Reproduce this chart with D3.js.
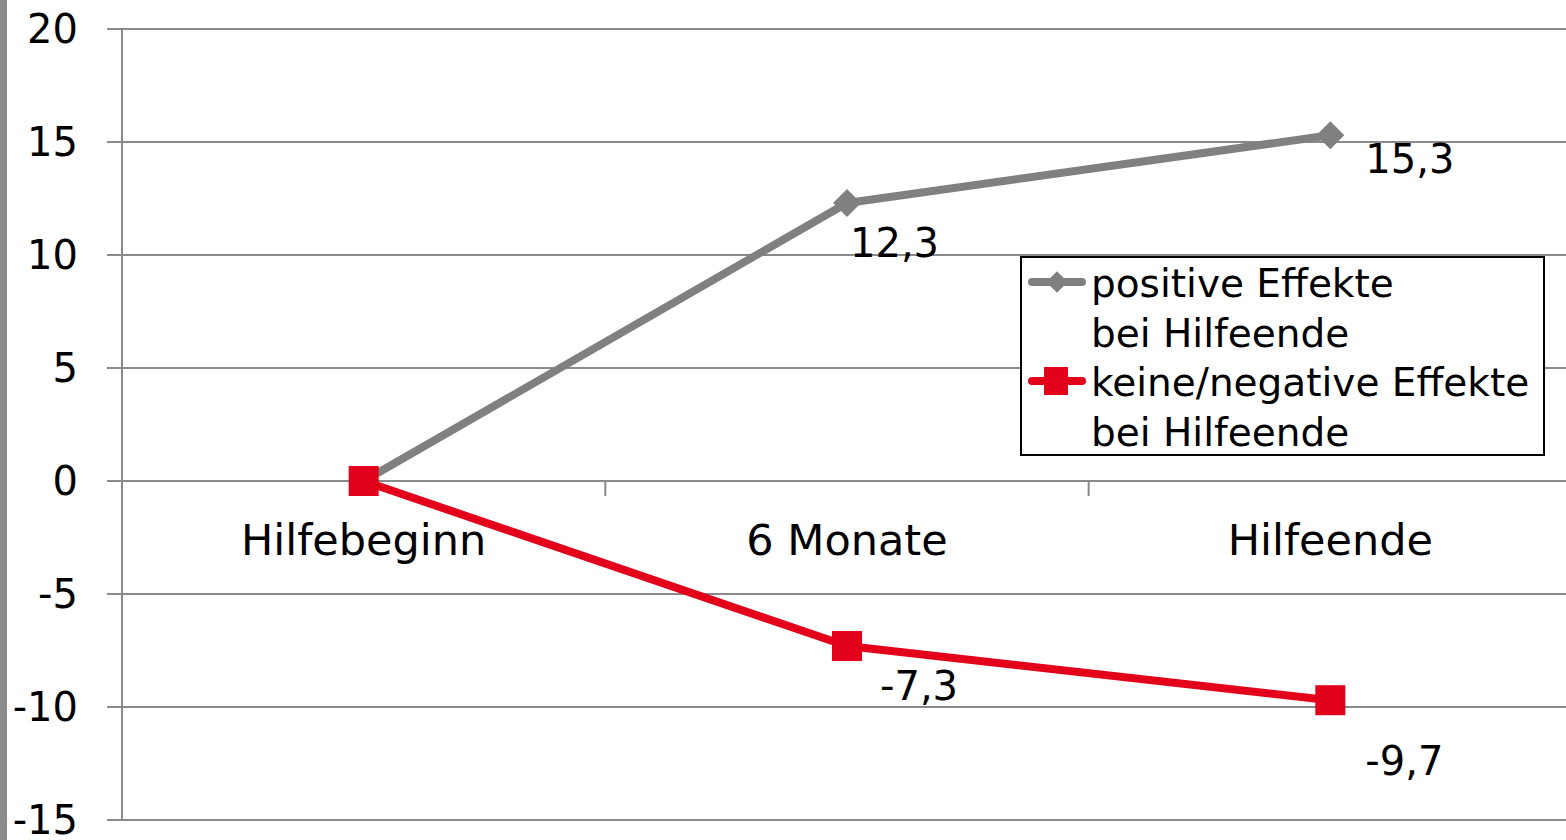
<!DOCTYPE html>
<html>
<head>
<meta charset="utf-8">
<script src="https://cdn.jsdelivr.net/npm/d3@7"></script>
<style>
  html, body { margin: 0; padding: 0; background: #fff; }
  svg { display: block; font-family: "DejaVu Sans", sans-serif; }
</style>
</head>
<body>
<svg id="chart" width="1566" height="840"></svg>
<script>
// Zeitpunkte der Erhebung
const categories = ["Hilfebeginn", "6 Monate", "Hilfeende"];

// Veränderung je Gruppe
const positiveValues = [0, 12.3, 15.3];
const negativeValues = [0, -7.3, -9.7];

// Beschriftungen
const seriesNames = [
  ["positive Effekte", "bei Hilfeende"],
  ["keine/negative Effekte", "bei Hilfeende"]
];
const yTicks = [20, 15, 10, 5, 0, -5, -10, -15];

// Werte-Labels: Versatz relativ zum Datenpunkt
const labelOffsets = [
  [null, [3, 54], [35, 38]],
  [null, [33, 54], [35, 75]]
];

const colors = ["#808080", "#e2001a"];
const fmt = v => String(v).replace(".", ",");

const svg = d3.select("#chart");

const x = d3.scaleBand().domain(categories).range([122, 1572]);
const y = d3.scaleLinear().domain([-15, 20]).range([820, 29]);

// linker Rahmenstreifen
svg.append("rect").attr("x", 0).attr("y", 0).attr("width", 7).attr("height", 840).attr("fill", "#8c8c8c");

// horizontale Gitterlinien (mit Teilstrichen links der Achse)
svg.append("g").selectAll("line").data(yTicks).join("line")
  .attr("x1", 107).attr("x2", 1566)
  .attr("y1", d => y(d)).attr("y2", d => y(d))
  .attr("stroke", "#8a8a8a").attr("stroke-width", 2);

// Y-Achse
svg.append("line")
  .attr("x1", 122).attr("x2", 122).attr("y1", y(20)).attr("y2", y(-15))
  .attr("stroke", "#8a8a8a").attr("stroke-width", 2);

// Y-Achsenbeschriftung
svg.append("g").selectAll("text").data(yTicks).join("text")
  .attr("x", 78).attr("y", d => y(d) + 14)
  .attr("text-anchor", "end").attr("font-size", 40).attr("fill", "#000")
  .text(d => d);

// Teilstriche der Kategorieachse an der Nulllinie
const bounds = categories.map(c => x(c)).concat([x(categories[2]) + x.bandwidth()]);
svg.append("g").selectAll("line").data(bounds).join("line")
  .attr("x1", d => d).attr("x2", d => d)
  .attr("y1", y(0)).attr("y2", y(0) + 15)
  .attr("stroke", "#8a8a8a").attr("stroke-width", 2);

// Kategoriebeschriftung
svg.append("g").selectAll("text").data(categories).join("text")
  .attr("x", d => x(d) + x.bandwidth() / 2).attr("y", y(0) + 74)
  .attr("text-anchor", "middle").attr("font-size", 43).attr("fill", "#000")
  .text(d => d);

const cx = (d, i) => x(categories[i]) + x.bandwidth() / 2;
const line = d3.line().x(cx).y(d => y(d));

const series = [positiveValues, negativeValues];

series.forEach((vals, s) => {
  svg.append("path").datum(vals)
    .attr("d", line)
    .attr("fill", "none").attr("stroke", colors[s])
    .attr("stroke-width", 8).attr("stroke-linejoin", "round").attr("stroke-linecap", "round");
});

// Markierungen
const diamond = d3.symbol().type(d3.symbolDiamond2).size(500);
function marker(g, s, px, py) {
  if (s === 0) {
    g.append("path").attr("d", diamond()).attr("transform", `translate(${px},${py})`).attr("fill", colors[0]);
  } else {
    g.append("rect").attr("x", px - 15).attr("y", py - 15).attr("width", 30).attr("height", 30).attr("fill", colors[1]);
  }
}
series.forEach((vals, s) => {
  const g = svg.append("g");
  vals.forEach((v, i) => marker(g, s, cx(v, i), y(v)));
});

// Werte-Labels
series.forEach((vals, s) => {
  vals.forEach((v, i) => {
    const off = labelOffsets[s][i];
    if (!off) return;
    svg.append("text")
      .attr("x", cx(v, i) + off[0]).attr("y", y(v) + off[1])
      .attr("font-size", 40).attr("fill", "#000")
      .text(fmt(v));
  });
});

// Legende
const lg = svg.append("g");
lg.append("rect").attr("x", 1021).attr("y", 257).attr("width", 523).attr("height", 198)
  .attr("fill", "#fff").attr("stroke", "#000").attr("stroke-width", 2);
seriesNames.forEach((lines, s) => {
  const ly = 282 + s * 99;
  lg.append("line").attr("x1", 1032).attr("x2", 1082).attr("y1", ly).attr("y2", ly)
    .attr("stroke", colors[s]).attr("stroke-width", 8).attr("stroke-linecap", "round");
  if (s === 0) {
    lg.append("path").attr("d", d3.symbol().type(d3.symbolDiamond2).size(300)()).attr("transform", `translate(1057,${ly})`).attr("fill", colors[0]);
  } else {
    lg.append("rect").attr("x", 1044).attr("y", ly - 14).attr("width", 24).attr("height", 28).attr("fill", colors[1]);
  }
  lines.forEach((t, k) => {
    lg.append("text").attr("x", 1091).attr("y", ly + 15 + k * 49.5)
      .attr("font-size", 39).attr("fill", "#000").text(t);
  });
});
</script>
</body>
</html>
